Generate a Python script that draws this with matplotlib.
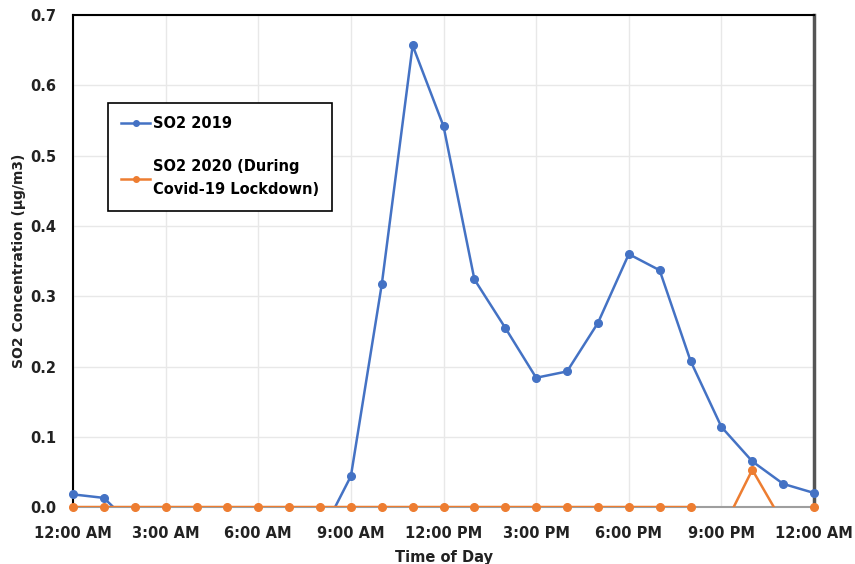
import numpy as np
import matplotlib.pyplot as plt

# データ（時刻は0〜24時、1時間ごと）
hours = np.arange(0, 25)
so2_2019 = [0.018, 0.013, -0.03, -0.04, -0.04, -0.04, -0.04, -0.04, -0.042,
            0.044, 0.317, 0.657, 0.542, 0.324, 0.255, 0.184, 0.193, 0.262,
            0.360, 0.337, 0.208, 0.114, 0.065, 0.033, 0.020]
so2_2020 = [0, 0, 0, 0, 0, 0, 0, 0, 0, 0, 0, 0, 0, 0, 0, 0, 0, 0, 0, 0, 0,
            -0.035, 0.053, -0.023, 0]
tick_hours = [0, 3, 6, 9, 12, 15, 18, 21, 24]
tick_labels = ['12:00 AM', '3:00 AM', '6:00 AM', '9:00 AM', '12:00 PM',
               '3:00 PM', '6:00 PM', '9:00 PM', '12:00 AM']

blue = '#4472C4'
orange = '#ED7D31'

plt.rcParams['font.family'] = 'DejaVu Sans'
fig = plt.figure(figsize=(8.55, 5.64), dpi=100)
ax = fig.add_axes([0.0854, 0.101, 0.8667, 0.872])

a19 = np.array(so2_2019)
a20 = np.array(so2_2020)

# 線（0未満はクリップ）
ax.plot(hours, a19, color=blue, lw=1.8, zorder=3)
ax.plot(hours, a20, color=orange, lw=1.8, zorder=4)
# マーカー（0以上のみ）
ax.plot(hours, np.where(a19 >= 0, a19, np.nan), 'o', color=blue, ms=5.5,
        clip_on=False, zorder=5)
ax.plot(hours, np.where(a20 >= 0, a20, np.nan), 'o', color=orange, ms=5.5,
        clip_on=False, zorder=6)

# 凡例用のダミー
h1, = ax.plot([], [], '-o', color=blue, lw=1.8, ms=4, label='SO2 2019')
h2, = ax.plot([], [], '-o', color=orange, lw=1.8, ms=4,
              label='SO2 2020 (During\nCovid-19 Lockdown)')

ax.set_xlim(0, 24)
ax.set_ylim(0, 0.7)
ax.set_xticks(tick_hours)
ax.set_xticklabels(tick_labels, fontsize=10.5, fontweight='bold', color='#222222')
ax.set_yticks(np.arange(0, 0.71, 0.1))
ax.set_yticklabels(['%.1f' % v for v in np.arange(0, 0.71, 0.1)],
                   fontsize=10.5, fontweight='bold', color='#222222')
ax.tick_params(length=0, pad=12)
ax.tick_params(axis='x', pad=14)
ax.grid(True, color='#e8e8e8', lw=1)
ax.set_axisbelow(True)

for s in ['left', 'top']:
    ax.spines[s].set_color('black')
    ax.spines[s].set_linewidth(1.5)
ax.spines['right'].set_color('#555555')
ax.spines['right'].set_linewidth(2.5)
ax.spines['bottom'].set_color('#9e9e9e')
ax.spines['bottom'].set_linewidth(1.5)

ax.set_xlabel('Time of Day', fontsize=10.5, fontweight='bold', color='#222222',
              labelpad=6)
ax.set_ylabel('SO2 Concentration (µg/m3)', fontsize=10, fontweight='bold',
              color='#222222', labelpad=3)

leg = ax.legend(handles=[h1, h2], loc='upper left',
                bbox_to_anchor=(0.047, 0.821), borderaxespad=0,
                prop={'weight': 'bold', 'size': 10.5},
                frameon=True, fancybox=False, edgecolor='black',
                framealpha=1, handlelength=2.0, handletextpad=0.2,
                labelspacing=1.9, borderpad=0.9)
leg.get_frame().set_linewidth(1.2)
for t in leg.get_texts():
    t.set_linespacing(1.7)

fig.savefig('out.png', dpi=100)
